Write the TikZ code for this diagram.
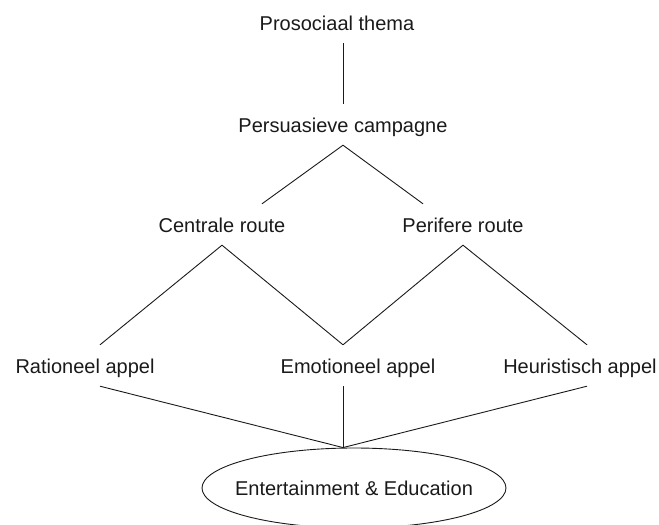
\documentclass[tikz,border=0pt]{standalone}
\usepackage{fontspec}
\setmainfont{Liberation Sans}
\usetikzlibrary{shapes.geometric,calc}
\definecolor{ink}{HTML}{1A1A1A}

\begin{document}
\begin{tikzpicture}[x=1pt,y=-1pt,
    lbl/.style={font=\fontsize{20}{24}\selectfont,color=ink,anchor=base,
                inner xsep=0pt,inner ysep=13pt,text height=15pt,text depth=0pt},
    link/.style={ink,line width=0.9pt}]
  \useasboundingbox (0,0) rectangle (659,525);
  % top of the tree
  \node[lbl] (thema) at (337,30) {Prosociaal thema};
  \node[lbl] (pers) at (343,132) {Persuasieve campagne};
  % routes
  \node[lbl] (centr) at (222,232) {Centrale route};
  \node[lbl] (perif) at (463,232) {Perifere route};
  % appeals
  \node[lbl] (ratio) at (85,373) {Rationeel appel};
  \node[lbl] (emo) at (358,373) {Emotioneel appel};
  \node[lbl] (heur) at (580,373) {Heuristisch appel};
  % outcome
  \node[ellipse,draw=ink,line width=0.9pt,inner sep=0pt,text height=15pt,text depth=0pt,
        minimum width=304pt,minimum height=80pt,font=\fontsize{20}{24}\selectfont,color=ink]
       (ee) at (354,488) {\makebox[0pt]{Entertainment \& Education}};
  \coordinate (join) at (ee.north -| pers.south);
  % connectors
  \draw[link] (pers.north) -- (pers.north |- thema.south);
  \draw[link] ([xshift=40pt]centr.north) -- (pers.south) -- ([xshift=-40pt]perif.north);
  \draw[link] ([xshift=15pt]ratio.north) -- (centr.south) -- (emo.north -| pers.south);
  \draw[link] (emo.north -| pers.south) -- (perif.south) -- ([xshift=7pt]heur.north);
  \draw[link] ([xshift=15pt]ratio.south) -- (join);
  \draw[link] (join |- emo.south) -- (join);
  \draw[link] ([xshift=7pt]heur.south) -- (join);
\end{tikzpicture}
\end{document}
